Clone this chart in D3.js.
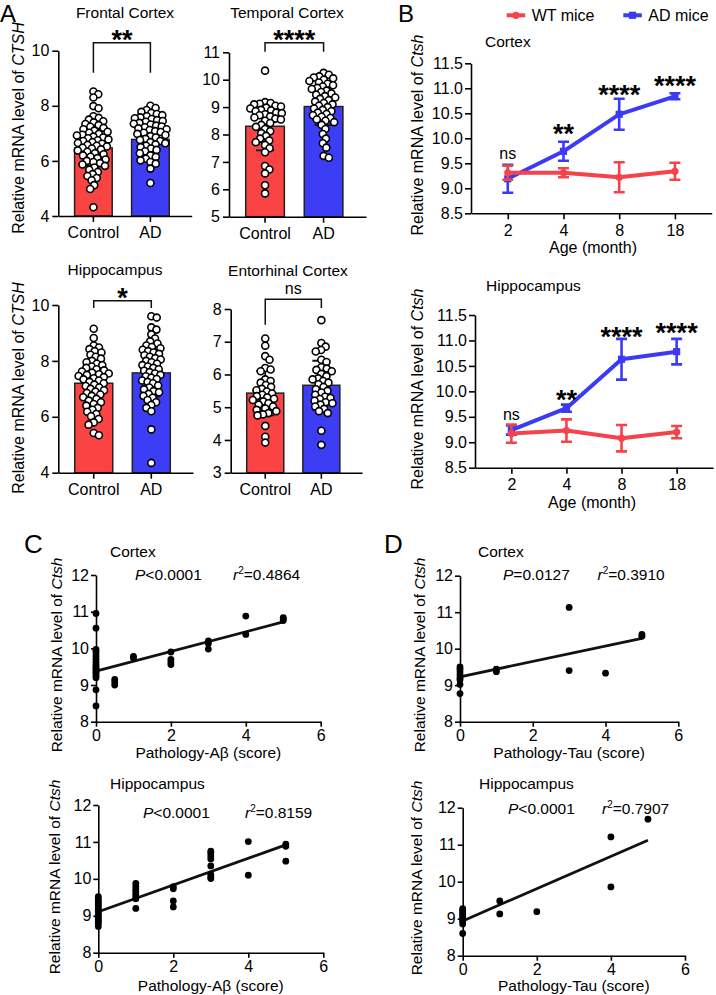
<!DOCTYPE html>
<html><head><meta charset="utf-8">
<script src="https://cdn.jsdelivr.net/npm/d3@7"></script>
<style>body{margin:0;background:#fff}svg{display:block}</style>
</head><body>
<script>
// ---------------- DATA ----------------
const groups = ["Control", "AD"];

const frontalControl = [8.52,8.42,8.3,7.99,7.91,7.62,7.56,7.5,7.44,7.4,7.34,7.3,7.24,7.2,7.15,7.1,7.06,7.02,6.98,6.95,6.92,6.88,6.85,6.82,6.78,6.75,6.72,6.68,6.65,6.62,6.58,6.55,6.52,6.48,6.45,6.42,6.38,6.33,6.28,6.24,6.2,6.15,6.1,6.05,6.0,5.96,5.92,5.87,5.82,5.76,5.68,5.6,5.52,5.45,5.38,5.3,5.12,4.98,4.32];
const frontalAD = [8.0,7.92,7.85,7.78,7.74,7.7,7.66,7.62,7.58,7.55,7.52,7.48,7.45,7.42,7.38,7.35,7.32,7.28,7.25,7.22,7.18,7.15,7.12,7.08,7.05,7.02,6.98,6.94,6.9,6.85,6.8,6.76,6.72,6.68,6.64,6.6,6.55,6.5,6.45,6.4,6.35,6.28,6.2,6.14,6.08,6.02,5.96,5.9,5.72,5.2];
const frontalMean = [6.47, 6.78], frontalSD = [0.65, 0.55];

const temporalControl = [10.33,9.18,9.15,9.12,9.1,9.05,9.02,8.98,8.95,8.9,8.88,8.85,8.8,8.78,8.74,8.7,8.66,8.62,8.58,8.55,8.5,8.42,8.35,8.28,8.2,8.12,8.05,7.95,7.85,7.78,7.72,7.62,7.5,7.35,6.85,6.72,6.58,6.15,5.85];
const temporalAD = [10.25,10.18,10.12,10.08,10.05,10.0,9.95,9.9,9.85,9.8,9.75,9.7,9.66,9.6,9.55,9.5,9.45,9.4,9.35,9.3,9.25,9.2,9.15,9.1,9.05,9.0,8.95,8.9,8.85,8.8,8.75,8.7,8.65,8.6,8.55,8.5,8.45,8.35,8.2,8.02,7.85,7.68,7.52,7.22,7.15];
const temporalMean = [8.3, 9.02], temporalSD = [0.88, 0.68];

const hippoControl = [9.15,8.82,8.55,8.48,8.42,8.35,8.3,8.22,8.15,8.08,8.0,7.95,7.9,7.85,7.8,7.75,7.7,7.66,7.62,7.58,7.55,7.52,7.5,7.46,7.42,7.38,7.34,7.3,7.25,7.2,7.15,7.1,7.05,7.0,6.95,6.9,6.85,6.8,6.75,6.7,6.64,6.58,6.52,6.46,6.4,6.32,6.25,6.18,6.1,6.02,5.92,5.8,5.72,5.42,5.34];
const hippoAD = [9.6,9.55,9.2,9.12,8.95,8.8,8.7,8.62,8.55,8.5,8.45,8.4,8.35,8.3,8.25,8.2,8.15,8.1,8.05,8.0,7.95,7.9,7.85,7.8,7.75,7.7,7.65,7.6,7.55,7.5,7.45,7.4,7.35,7.3,7.25,7.2,7.12,7.05,6.98,6.92,6.88,6.82,6.75,6.68,6.6,6.52,6.42,6.32,6.2,5.55,4.35];
const hippoMean = [7.2, 7.57], hippoSD = [0.77, 0.85];

const entoControl = [7.1,6.88,6.56,6.45,6.2,6.15,6.1,5.85,5.8,5.75,5.68,5.62,5.56,5.52,5.48,5.42,5.38,5.34,5.3,5.26,5.22,5.18,5.12,5.08,5.02,4.96,4.92,4.88,4.82,4.78,4.75,4.43,4.1,3.92];
const entoAD = [7.66,6.96,6.85,6.75,6.7,6.45,6.38,6.22,6.18,6.14,6.1,6.02,5.95,5.88,5.85,5.8,5.75,5.7,5.62,5.55,5.5,5.45,5.38,5.32,5.28,5.25,5.2,5.15,5.12,5.08,5.02,4.95,4.88,4.82,4.28,3.85];
const entoMean = [5.43, 5.67], entoSD = [0.68, 0.75];

// Panel B
const ages = ["2", "4", "8", "18"];
const cortexWT = [9.31, 9.31, 9.22, 9.34], cortexWTErr = [0.14, 0.09, 0.30, 0.17];
const cortexADm = [9.19, 9.74, 10.48, 10.84], cortexADErr = [0.28, 0.19, 0.31, 0.06];
const cortexSig = ["ns", "**", "****", "****"], cortexSigY = [9.58, 10.21, 10.99, 11.17];
const hippWT = [9.17, 9.23, 9.08, 9.20], hippWTErr = [0.18, 0.22, 0.26, 0.12];
const hippADm = [9.24, 9.67, 10.63, 10.78], hippADErr = [0.09, 0.07, 0.40, 0.25];
const hippSig = ["ns", "**", "****", "****"], hippSigY = [9.44, 9.96, 11.2, 11.28];

// Panel C / D scatter
const cAbScore = [0,0,0,0,0,0,0,0,0,0,0,0,0,0,0,0,0,0, 0.5,0.5,0.5, 1,1, 2,2,2,2, 3,3,3, 4,4, 5,5,5];
const cAbLevel = [10.95,10.55,9.97,9.92,9.85,9.78,9.7,9.62,9.55,9.5,9.45,9.4,9.35,9.3,9.25,9.2,8.87,8.43, 9.15,9.08,9.0, 9.78,9.74, 9.9,9.7,9.63,9.56, 10.2,10.13,9.98, 10.88,10.38, 10.84,10.8,10.76];
const hAbScore = [0,0,0,0,0,0,0,0,0,0,0,0,0,0,0,0, 1,1,1,1,1,1,1,1, 2,2,2,2, 3,3,3,3,3,3,3,3, 4,4, 5,5,5];
const hAbLevel = [9.52,9.46,9.4,9.35,9.3,9.25,9.2,9.15,9.1,9.05,9.0,8.95,8.9,8.85,8.8,8.71, 9.88,9.8,9.72,9.65,9.58,9.52,9.46,9.2, 9.79,9.73,9.4,9.24, 10.75,10.7,10.62,10.54,10.35,10.12,10.05,10.01, 11.01,10.1, 10.94,10.88,10.48];
const cTauScore = [0,0,0,0,0,0,0,0, 1,1, 3,3, 4, 5,5];
const cTauLevel = [9.5,9.44,9.36,9.28,9.2,9.15,9.02,8.77, 9.44,9.37, 11.13,9.4, 9.33, 10.39,10.34];
const hTauScore = [0,0,0,0,0,0,0,0,0,0, 1,1, 2, 4,4, 5];
const hTauLevel = [9.27,9.22,9.17,9.12,9.07,9.02,8.97,8.92,8.86,8.6, 9.48,9.13, 9.19, 11.21,9.86, 11.69];
const fits = { cAb:[9.38,0.268], hAb:[9.11,0.362], cTau:[9.23,0.21], hTau:[8.94,0.436] };

// ---------------- DRAW ----------------
const FF = '"Liberation Sans", Arial, Helvetica, sans-serif';
const RED = "#F6424A", BLUE = "#3B3BF2";
const BAR_RED = "#FA4444", BAR_BLUE = "#3D3DF5";
const svg = d3.select("body").append("svg").attr("width", 716).attr("height", 995)
  .attr("font-family", FF);
const fmtInt = d3.format("d");

function styleAxis(g, fs) {
  g.attr("font-family", FF).attr("font-size", fs);
  g.select(".domain").attr("stroke", "#000").attr("stroke-width", 1.6);
  g.selectAll(".tick line").attr("stroke", "#000").attr("stroke-width", 1.6);
  g.selectAll(".tick text").attr("fill", "#000");
}
function ylabel(x, y, gene, fs) {
  const t = svg.append("text").attr("transform", `translate(${x},${y}) rotate(-90)`)
    .attr("text-anchor", "middle").attr("font-size", fs);
  t.append("tspan").text("Relative mRNA level of ");
  t.append("tspan").attr("font-style", "italic").text(gene);
}
function txt(x, y, s, fs, anchor, extra) {
  const t = svg.append("text").attr("x", x).attr("y", y).attr("font-size", fs)
    .attr("text-anchor", anchor || "start").text(s);
  if (extra) extra(t);
  return t;
}
function stars(x, cy, s) {
  const fs = 27;
  svg.append("text").attr("x", x).attr("y", cy + fs * 0.575).attr("text-anchor", "middle")
    .attr("font-size", fs).attr("font-weight", "bold").text(s);
}
function swarm(vals, y, d) {
  const pts = vals.map(v => ({ v, y: y(v), dx: 0 })).sort((a, b) => a.y - b.y);
  const placed = [];
  for (const p of pts) {
    const near = placed.filter(q => Math.abs(q.y - p.y) < d);
    const c = [0];
    near.forEach(q => { const h = Math.sqrt(d * d - (q.y - p.y) ** 2); c.push(q.dx + h, q.dx - h); });
    c.sort((a, b) => Math.abs(a) - Math.abs(b));
    for (const cx of c) {
      if (near.every(q => (q.dx - cx) ** 2 + (q.y - p.y) ** 2 >= d * d - 0.01)) { p.dx = cx; break; }
    }
    placed.push(p);
  }
  return pts;
}

function barPanel(o) {
  const y = d3.scaleLinear().domain(o.domain).range([o.yBot, o.yTop]);
  const x = d3.scaleBand().domain(groups).range([o.x0, o.x1]).paddingInner(0.34).paddingOuter(0.34).align(0.42);
  const cols = [BAR_RED, BAR_BLUE];
  const cx = g => x(g) + x.bandwidth() / 2;
  groups.forEach((g, i) => {
    svg.append("rect").attr("x", x(g)).attr("width", x.bandwidth())
      .attr("y", y(o.means[i])).attr("height", y(o.domain[0]) - y(o.means[i]))
      .attr("fill", cols[i]).attr("stroke", "#222").attr("stroke-width", 1.5);
  });
  groups.forEach((g, i) => {
    const lo = y(o.means[i] - o.sds[i]), hi = y(o.means[i] + o.sds[i]);
    svg.append("path").attr("d", `M${cx(g)},${lo}V${hi}M${cx(g) - 9},${lo}h18M${cx(g) - 9},${hi}h18`)
      .attr("stroke", "#111").attr("stroke-width", 1.8).attr("fill", "none");
  });
  groups.forEach((g, i) => {
    const pts = swarm(o.values[i], y, 5.6);
    svg.append("g").selectAll("circle").data(pts).join("circle")
      .attr("cx", d => cx(g) + d.dx).attr("cy", d => d.y).attr("r", 3.5)
      .attr("fill", "#fff").attr("stroke", "#000").attr("stroke-width", 1.6);
  });
  styleAxis(svg.append("g").attr("transform", `translate(${o.x0},0)`)
    .call(d3.axisLeft(y).tickValues(o.ticks).tickFormat(fmtInt).tickSize(6).tickPadding(3).tickSizeOuter(0)), 16);
  styleAxis(svg.append("g").attr("transform", `translate(0,${o.yBot})`)
    .call(d3.axisBottom(x).tickSize(6).tickPadding(5).tickSizeOuter(0)), 16);
  const xa = cx(groups[0]), xb = cx(groups[1]);
  const top = y(o.bracket[1]);
  svg.append("path").attr("d", `M${xa},${y(o.bracket[0])}V${top}H${xb}V${y(o.bracket[2])}`)
    .attr("fill", "none").attr("stroke", "#111").attr("stroke-width", 1.5);
  if (o.sig === "ns") txt((xa + xb) / 2, top - 5, "ns", 16, "middle");
  else stars((xa + xb) / 2, top - 9, o.sig);
  txt(o.titleX, o.titleY, o.title, 15.5, "middle");
}

// Panel A
txt(0, 22, "A", 24);
barPanel({ domain: [4, 10], ticks: [4, 6, 8, 10], yBot: 216, yTop: 50.7, x0: 58.3, x1: 191.7,
  values: [frontalControl, frontalAD], means: frontalMean, sds: frontalSD,
  bracket: [9.2, 10.29, 9.2], sig: "**", title: "Frontal Cortex", titleX: 125, titleY: 18 });
barPanel({ domain: [5, 11], ticks: [5, 6, 7, 8, 9, 10, 11], yBot: 216.7, yTop: 52.3, x0: 229, x1: 366,
  values: [temporalControl, temporalAD], means: temporalMean, sds: temporalSD,
  bracket: [11.02, 11.35, 11.02], sig: "****", title: "Temporal Cortex", titleX: 287, titleY: 18 });
barPanel({ domain: [4, 10], ticks: [4, 6, 8, 10], yBot: 472.7, yTop: 305, x0: 58.3, x1: 193,
  values: [hippoControl, hippoAD], means: hippoMean, sds: hippoSD,
  bracket: [9.89, 10.15, 9.89], sig: "*", title: "Hippocampus", titleX: 115, titleY: 275 });
barPanel({ domain: [3, 8], ticks: [3, 4, 5, 6, 7, 8], yBot: 472.7, yTop: 309, x0: 230.7, x1: 362,
  values: [entoControl, entoAD], means: entoMean, sds: entoSD,
  bracket: [7.52, 8.3, 8.03], sig: "ns", title: "Entorhinal Cortex", titleX: 288, titleY: 276 });
ylabel(24, 128, "CTSH", 16);
ylabel(24, 388, "CTSH", 16);

// Panel B
txt(398, 22, "B", 24);
function marker(g, shape, x, y, color) {
  if (shape === "circle") g.append("circle").attr("cx", x).attr("cy", y).attr("r", 3.6).attr("fill", color);
  else g.append("rect").attr("x", x - 3.6).attr("y", y - 3.6).attr("width", 7.2).attr("height", 7.2).attr("fill", color);
}
function linePanel(o) {
  const y = d3.scaleLinear().domain([8.5, 11.5]).range([o.yBot, o.yTop]);
  const x = d3.scalePoint().domain(ages).range([o.x0, o.x1]).padding(0.66);
  const series = [
    { m: o.ad, e: o.adErr, color: BLUE, shape: "square" },
    { m: o.wt, e: o.wtErr, color: RED, shape: "circle" }
  ];
  series.forEach(s => {
    const g = svg.append("g");
    g.append("path").datum(s.m).attr("fill", "none").attr("stroke", s.color).attr("stroke-width", 4)
      .attr("stroke-linejoin", "round")
      .attr("d", d3.line().x((d, i) => x(ages[i])).y(d => y(d)));
    s.m.forEach((v, i) => {
      const cx = x(ages[i]), lo = y(v - s.e[i]), hi = y(v + s.e[i]);
      g.append("path").attr("d", `M${cx},${lo}V${hi}M${cx - 5.5},${lo}h11M${cx - 5.5},${hi}h11`)
        .attr("stroke", s.color).attr("stroke-width", 2.6).attr("fill", "none");
      marker(g, s.shape, cx, y(v), s.color);
    });
  });
  styleAxis(svg.append("g").attr("transform", `translate(${o.x0},0)`)
    .call(d3.axisLeft(y).tickValues([8.5, 9, 9.5, 10, 10.5, 11, 11.5]).tickFormat(d3.format(".1f"))
      .tickSize(6).tickPadding(2).tickSizeOuter(0)), 16);
  styleAxis(svg.append("g").attr("transform", `translate(0,${o.yBot})`)
    .call(d3.axisBottom(x).tickSize(6).tickPadding(5).tickSizeOuter(0)), 16);
  o.sig.forEach((s, i) => {
    if (s === "ns") txt(x(ages[i]), y(o.sigY[i]), s, 16, "middle");
    else stars(x(ages[i]), y(o.sigY[i]), s);
  });
  txt(o.titleX, o.titleY, o.title, 15.5);
  txt(o.xlabX, o.xlabY, "Age (month)", 16, "middle");
}
linePanel({ yBot: 213.3, yTop: 63.3, x0: 471, x1: 711.7, wt: cortexWT, wtErr: cortexWTErr, ad: cortexADm, adErr: cortexADErr,
  sig: cortexSig, sigY: cortexSigY, title: "Cortex", titleX: 485, titleY: 46.5, xlabX: 593, xlabY: 253 });
linePanel({ yBot: 467.7, yTop: 315, x0: 475, x1: 713, wt: hippWT, wtErr: hippWTErr, ad: hippADm, adErr: hippADErr,
  sig: hippSig, sigY: hippSigY, title: "Hippocampus", titleX: 486, titleY: 291, xlabX: 592, xlabY: 508 });
ylabel(423, 135, "Ctsh", 16);
ylabel(422.5, 389, "Ctsh", 16);
[[506.7, RED, "circle", "WT mice"], [623.3, BLUE, "square", "AD mice"]].forEach(([lx, c, sh, lab]) => {
  const g = svg.append("g");
  g.append("line").attr("x1", lx).attr("x2", lx + 18.5).attr("y1", 15.3).attr("y2", 15.3)
    .attr("stroke", c).attr("stroke-width", 4);
  marker(g, sh, lx + 9.2, 15.3, c);
  txt(lx + 25, 21, lab, 16);
});

// Panels C, D
function scatterPanel(o) {
  const y = d3.scaleLinear().domain([8, 12]).range([o.yBot, o.yTop]);
  const x = d3.scaleLinear().domain([0, 6]).range([o.x0, o.x1]);
  const [b0, b1] = o.fit;
  styleAxis(svg.append("g").attr("transform", `translate(${o.x0},0)`)
    .call(d3.axisLeft(y).tickValues([8, 9, 10, 11, 12]).tickFormat(fmtInt).tickSize(5).tickPadding(2).tickSizeOuter(0)), 16);
  styleAxis(svg.append("g").attr("transform", `translate(0,${o.yBot})`)
    .call(d3.axisBottom(x).tickValues([0, 2, 4, 6]).tickFormat(fmtInt).tickSize(5).tickPadding(3).tickSizeOuter(0)), 16);
  svg.append("line").attr("x1", x(0)).attr("x2", x(5)).attr("y1", y(b0)).attr("y2", y(b0 + 5 * b1))
    .attr("stroke", "#111").attr("stroke-width", 2.8);
  svg.append("g").selectAll("circle").data(o.sx).join("circle")
    .attr("cx", d => x(d)).attr("cy", (d, i) => y(o.sy[i])).attr("r", 3.4).attr("fill", "#000");
  txt(o.titleX, o.titleY, o.title, 15.5);
  txt(o.pX, o.pY, "", 15.5, "start", t => {
    t.append("tspan").attr("font-style", "italic").text("P");
    t.append("tspan").text(o.p);
  });
  txt(o.rX, o.pY, "", 15.5, "start", t => {
    t.append("tspan").attr("font-style", "italic").text("r");
    t.append("tspan").attr("font-size", 10).attr("dy", -6).text("2");
    t.append("tspan").attr("dy", 6).text(o.r);
  });
  txt((o.x0 + o.x1) / 2, o.xlabY, o.xlab, 15.5, "middle");
}
txt(24, 553, "C", 26);
txt(384, 553, "D", 26);
scatterPanel({ yBot: 721.7, yTop: 575, x0: 96, x1: 320.7, sx: cAbScore, sy: cAbLevel, fit: fits.cAb,
  title: "Cortex", titleX: 110, titleY: 557, pX: 135, pY: 580, p: "<0.0001", rX: 233, r: "=0.4864",
  xlab: "Pathology-A\u03B2 (score)", xlabY: 758 });
scatterPanel({ yBot: 952.7, yTop: 805, x0: 98.3, x1: 323.3, sx: hAbScore, sy: hAbLevel, fit: fits.hAb,
  title: "Hippocampus", titleX: 110, titleY: 789, pX: 143, pY: 818, p: "<0.0001", rX: 245, r: "=0.8159",
  xlab: "Pathology-A\u03B2 (score)", xlabY: 991 });
scatterPanel({ yBot: 721.7, yTop: 575.7, x0: 460, x1: 678.3, sx: cTauScore, sy: cTauLevel, fit: fits.cTau,
  title: "Cortex", titleX: 478, titleY: 557, pX: 503, pY: 580, p: "=0.0127", rX: 597.5, r: "=0.3910",
  xlab: "Pathology-Tau (score)", xlabY: 758 });
scatterPanel({ yBot: 955.7, yTop: 807.7, x0: 462.7, x1: 685, sx: hTauScore, sy: hTauLevel, fit: fits.hTau,
  title: "Hippocampus", titleX: 479, titleY: 789, pX: 508, pY: 814, p: "<0.0001", rX: 602, r: "=0.7907",
  xlab: "Pathology-Tau (score)", xlabY: 991 });
ylabel(62, 655, "Ctsh", 15.5);
ylabel(60, 877, "Ctsh", 15.5);
ylabel(425, 655, "Ctsh", 15.5);
ylabel(421.5, 878, "Ctsh", 15.5);
</script></body></html>
